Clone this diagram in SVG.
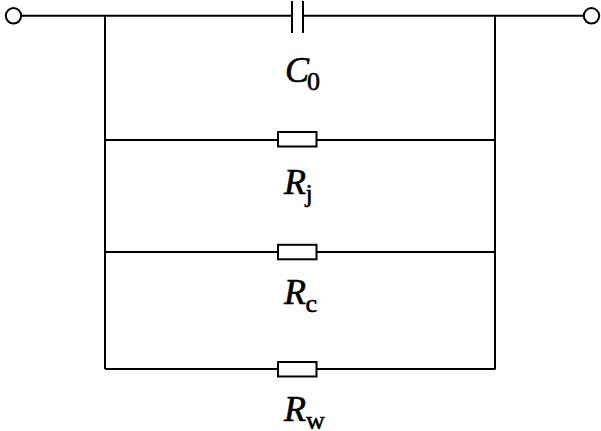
<svg xmlns="http://www.w3.org/2000/svg" width="601" height="431" viewBox="0 0 601 431">
<style>
.w{fill:none;stroke:#000;stroke-width:2}
.b{fill:#fff;stroke:#000;stroke-width:2}
text{font-family:"Liberation Serif","Times New Roman",serif;fill:#000;stroke:#000;stroke-width:.6;font-size:36px;font-style:italic}
tspan{font-size:26px;font-style:normal}
</style>
<rect width="601" height="431" fill="#fff"/>
<g id="connectors">
<path class="w" d="M21.500 15.800H292M303 15.800H583.500M105 15.800V369M495 15.800V369.500"/>
<path class="w" d="M105 140H278M316.500 140H495M105 252H278M316.500 252H495M105 369H278M316.500 369H495"/>
</g>
<g id="terminal-left"><circle class="b" cx="13.500" cy="15.800" r="7.700"/></g>
<g id="terminal-right"><circle class="b" cx="591.500" cy="15.800" r="7.700"/></g>
<g id="C0">
<path class="w" d="M292 1V33M303 1V33"/>
<text x="285" y="82">C<tspan x="307" y="90">0</tspan></text>
</g>
<g id="Rj">
<rect class="b" x="278" y="132" width="38.500" height="14.500"/>
<text x="284" y="194">R<tspan x="305.500" y="202">j</tspan></text>
</g>
<g id="Rc">
<rect class="b" x="278" y="244.800" width="38.500" height="14.500"/>
<text x="284" y="304">R<tspan x="305.500" y="312">c</tspan></text>
</g>
<g id="Rw">
<rect class="b" x="278" y="362" width="38.500" height="14.500"/>
<text x="284" y="421">R<tspan x="306" y="429">w</tspan></text>
</g>
</svg>
